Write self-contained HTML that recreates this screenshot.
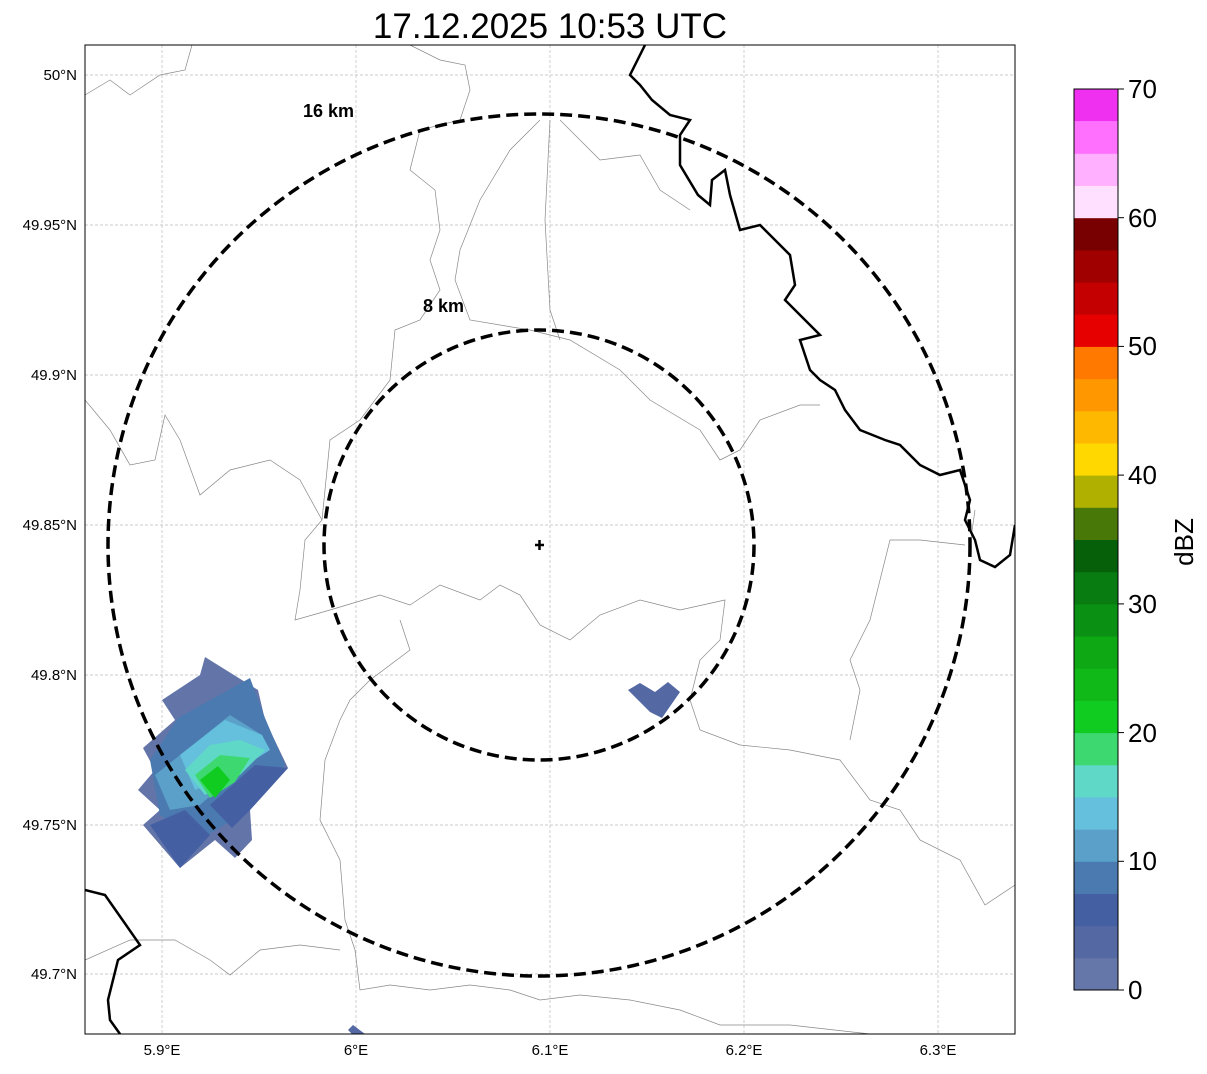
<!DOCTYPE html><html><head><style>body{margin:0;background:#fff;width:1207px;height:1069px;overflow:hidden;font-family:"Liberation Sans",sans-serif}</style></head><body>
<svg width="1207" height="1069" xmlns="http://www.w3.org/2000/svg" font-family="Liberation Sans, sans-serif">
<text x="550" y="38" font-size="35" text-anchor="middle">17.12.2025 10:53 UTC</text>
<defs><clipPath id="c"><rect x="85" y="45" width="930" height="989"/></clipPath></defs>
<g clip-path="url(#c)">
<g stroke="#bbb" stroke-width="0.7" stroke-dasharray="3,2">
<line x1="162" y1="45" x2="162" y2="1034"/><line x1="356" y1="45" x2="356" y2="1034"/><line x1="550" y1="45" x2="550" y2="1034"/><line x1="744" y1="45" x2="744" y2="1034"/><line x1="938" y1="45" x2="938" y2="1034"/>
<line x1="85" y1="75" x2="1015" y2="75"/><line x1="85" y1="225" x2="1015" y2="225"/><line x1="85" y1="375" x2="1015" y2="375"/><line x1="85" y1="525" x2="1015" y2="525"/><line x1="85" y1="675" x2="1015" y2="675"/><line x1="85" y1="825" x2="1015" y2="825"/><line x1="85" y1="974" x2="1015" y2="974"/>
</g>
<g fill="none" stroke="#888" stroke-width="0.7">
<path d="M85,95 L110,80 L130,95 L160,75 L185,70 L192,45"/>
<path d="M85,400 L110,430 L130,465 L155,460 L165,415 L180,440 L200,495 L230,470 L270,460 L300,480 L322,520 L305,540 L300,590 L295,620 L330,610 L380,595 L410,605 L440,585 L480,600 L500,585 L520,595 L540,625 L570,640 L600,615 L640,600 L680,610 L725,600 L720,640 L700,660 L690,700"/>
<path d="M410,45 L440,60 L465,65 L470,90 L460,120 L420,130 L410,170 L435,190 L440,230 L430,260 L440,290 L420,320 L395,330 L390,380 L360,420 L330,440 L322,520"/>
<path d="M540,120 L510,150 L480,200 L460,250 L455,280 L470,320 L530,330 L570,340 L620,370 L650,400 L700,430 L720,460 L740,450 L760,420 L800,405 L820,405"/>
<path d="M550,120 L545,220 L550,310 L560,340"/>
<path d="M560,120 L600,160 L640,155 L660,190 L690,210"/>
<path d="M400,620 L410,650 L370,680 L350,700 L340,720 L325,760 L320,820 L340,860 L345,920 L355,950 L360,990 L390,985 L430,990 L470,985 L510,990 L540,1000 L580,995 L630,1000 L680,1010 L720,1025 L790,1025 L870,1034"/>
<path d="M85,960 L130,940 L175,940 L210,960 L230,975 L260,950 L300,945 L340,950"/>
<path d="M690,700 L700,730 L740,745 L790,750 L840,760 L870,800 L900,810 L920,840 L960,860 L985,905 L1015,885"/>
<path d="M965,545 L920,540 L890,540 L880,580 L870,620 L850,660 L860,690 L850,740"/>
<path d="M970,545 L975,510"/>
</g>
<g fill="none" stroke="#000" stroke-width="2.5">
<path d="M645,45 L630,75 L640,85 L652,100 L670,115 L690,120 L680,135 L680,165 L698,195 L710,205 L712,180 L725,170 L730,195 L740,230 L760,225 L775,240 L790,255 L795,285 L785,300 L800,315 L820,335 L800,340 L810,370 L820,380 L835,390 L845,410 L860,430 L885,440 L900,445 L920,465 L940,475 L960,470 L970,500 L965,520 L975,540 L980,560 L995,567 L1010,555 L1015,525"/>
<path d="M85,890 L105,895 L140,945 L118,960 L108,1000 L110,1020 L120,1034"/>
</g>
<g>
<polygon points="205,657 258,690 265,720 288,768 250,810 252,840 235,858 215,840 180,868 143,825 160,810 138,790 155,770 143,748 175,720 162,700 200,675" fill="#6374a8"/>
<polygon points="178,718 250,678 265,718 285,765 240,815 200,840 160,815 150,760" fill="#4a7ab0"/>
<polygon points="155,775 230,715 262,735 240,770 200,805 170,810" fill="#5aa0c8"/>
<polygon points="180,755 225,720 262,735 270,750 230,775 195,790" fill="#64c0dc"/>
<polygon points="185,770 210,745 240,740 265,750 240,775 205,795" fill="#60d8c8"/>
<polygon points="195,775 220,755 250,758 235,782 210,798" fill="#3dd870"/>
<polygon points="200,780 218,766 230,780 215,798" fill="#10cc20"/>
<polygon points="210,805 255,765 288,768 250,810 232,828" fill="#4460a3"/>
<polygon points="150,825 185,810 210,835 180,868" fill="#4460a3"/>
</g>
<polygon points="628,690 640,683 655,692 668,682 680,692 662,718 650,712" fill="#5468a3"/>
<polygon points="348,1030 353,1025 365,1034 352,1034" fill="#5468a3"/>
<g fill="none" stroke="#000" stroke-width="3.5" stroke-dasharray="12,6">
<ellipse cx="539" cy="545" rx="215" ry="215"/>
<ellipse cx="539" cy="545" rx="431" ry="431"/>
</g>
<path d="M535,545 h9 M539.5,540 v10" stroke="#000" stroke-width="2.5"/>
<text x="303" y="117" font-size="18" font-weight="bold">16 km</text>
<text x="423" y="312" font-size="18" font-weight="bold">8 km</text>
</g>
<rect x="85" y="45" width="930" height="989" fill="none" stroke="#000" stroke-width="1"/>
<g font-size="15" text-anchor="end">
<text x="77" y="80">50°N</text><text x="77" y="230">49.95°N</text><text x="77" y="380">49.9°N</text><text x="77" y="530">49.85°N</text><text x="77" y="680">49.8°N</text><text x="77" y="830">49.75°N</text><text x="77" y="979">49.7°N</text>
</g>
<g font-size="15" text-anchor="middle">
<text x="162" y="1055">5.9°E</text><text x="356" y="1055">6°E</text><text x="550" y="1055">6.1°E</text><text x="744" y="1055">6.2°E</text><text x="938" y="1055">6.3°E</text>
</g>
<g>
<rect x="1074" y="957.8" width="44" height="32.7" fill="#6577a8"/>
<rect x="1074" y="925.6" width="44" height="32.7" fill="#5468a3"/>
<rect x="1074" y="893.5" width="44" height="32.7" fill="#4460a3"/>
<rect x="1074" y="861.3" width="44" height="32.7" fill="#4a7ab0"/>
<rect x="1074" y="829.1" width="44" height="32.7" fill="#5aa0c8"/>
<rect x="1074" y="796.9" width="44" height="32.7" fill="#64c0dc"/>
<rect x="1074" y="764.7" width="44" height="32.7" fill="#60d8c8"/>
<rect x="1074" y="732.6" width="44" height="32.7" fill="#3dd870"/>
<rect x="1074" y="700.4" width="44" height="32.7" fill="#10cc20"/>
<rect x="1074" y="668.2" width="44" height="32.7" fill="#10b818"/>
<rect x="1074" y="636.0" width="44" height="32.7" fill="#0ea814"/>
<rect x="1074" y="603.8" width="44" height="32.7" fill="#0a9012"/>
<rect x="1074" y="571.7" width="44" height="32.7" fill="#087c10"/>
<rect x="1074" y="539.5" width="44" height="32.7" fill="#06600a"/>
<rect x="1074" y="507.3" width="44" height="32.7" fill="#487808"/>
<rect x="1074" y="475.1" width="44" height="32.7" fill="#b0b000"/>
<rect x="1074" y="442.9" width="44" height="32.7" fill="#ffd800"/>
<rect x="1074" y="410.8" width="44" height="32.7" fill="#ffb800"/>
<rect x="1074" y="378.6" width="44" height="32.7" fill="#ff9800"/>
<rect x="1074" y="346.4" width="44" height="32.7" fill="#ff7800"/>
<rect x="1074" y="314.2" width="44" height="32.7" fill="#e60000"/>
<rect x="1074" y="282.0" width="44" height="32.7" fill="#c40000"/>
<rect x="1074" y="249.9" width="44" height="32.7" fill="#a00000"/>
<rect x="1074" y="217.7" width="44" height="32.7" fill="#780000"/>
<rect x="1074" y="185.5" width="44" height="32.7" fill="#ffe0ff"/>
<rect x="1074" y="153.3" width="44" height="32.7" fill="#ffb0ff"/>
<rect x="1074" y="121.1" width="44" height="32.7" fill="#ff70ff"/>
<rect x="1074" y="89" width="44" height="32.2" fill="#f030f0"/>
<rect x="1074" y="89" width="44" height="901" fill="none" stroke="#000"/>
<g stroke="#000"><line x1="1118" y1="990" x2="1124" y2="990"/><line x1="1118" y1="861.3" x2="1124" y2="861.3"/><line x1="1118" y1="732.6" x2="1124" y2="732.6"/><line x1="1118" y1="603.9" x2="1124" y2="603.9"/><line x1="1118" y1="475.1" x2="1124" y2="475.1"/><line x1="1118" y1="346.4" x2="1124" y2="346.4"/><line x1="1118" y1="217.7" x2="1124" y2="217.7"/><line x1="1118" y1="89" x2="1124" y2="89"/></g>
<g font-size="26">
<text x="1128" y="999">0</text><text x="1128" y="870">10</text><text x="1128" y="742">20</text><text x="1128" y="613">30</text><text x="1128" y="484">40</text><text x="1128" y="355">50</text><text x="1128" y="227">60</text><text x="1128" y="98">70</text>
</g>
<text x="1193" y="542" font-size="26" text-anchor="middle" transform="rotate(-90 1193 542)">dBZ</text>
</g>
</svg></body></html>
